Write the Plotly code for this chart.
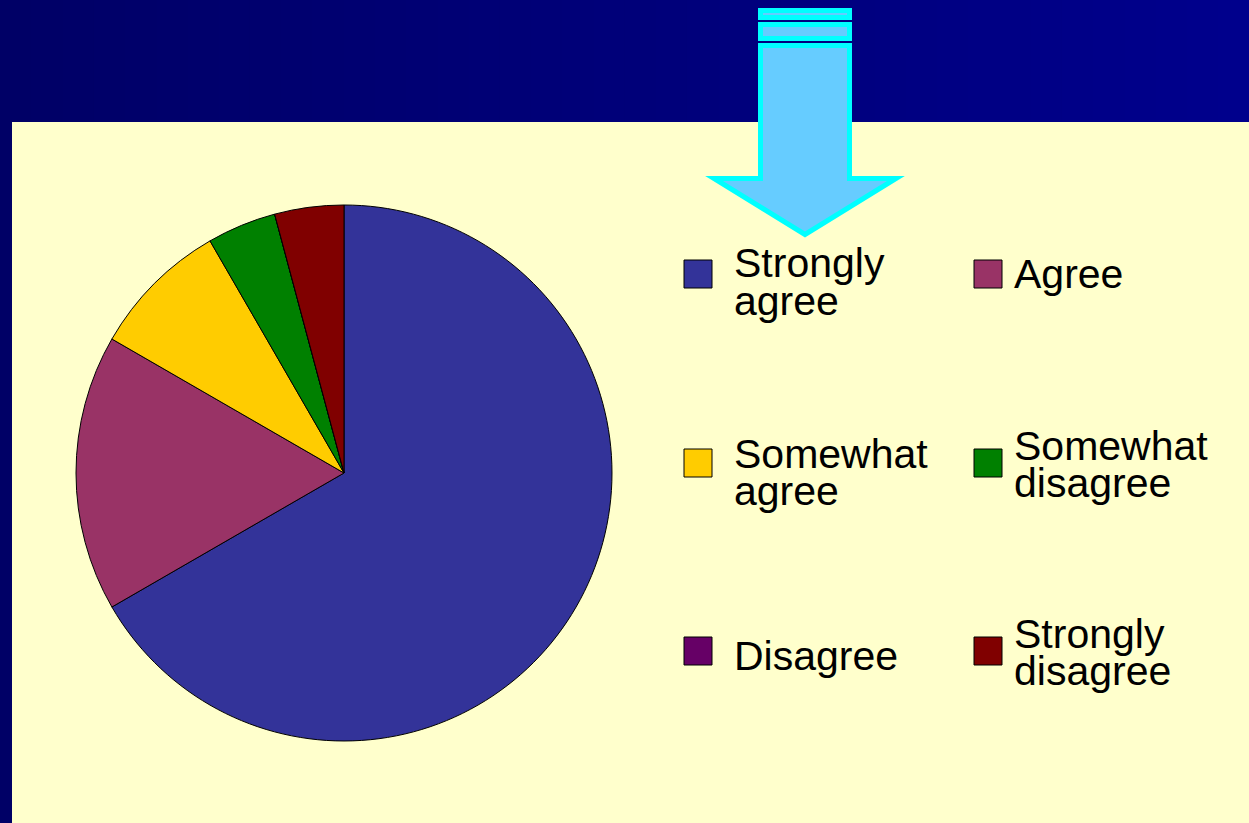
import plotly.graph_objects as go

# survey answers
categories = ["Strongly agree", "Agree", "Somewhat agree",
              "Somewhat disagree", "Disagree", "Strongly disagree"]
counts = [16, 4, 2, 1, 0, 1]
colors = ["#333399", "#993366", "#FFCC00", "#008000", "#660066", "#800000"]

W, H = 1249, 823


def px(x):
    return x / W


def py(y):
    return 1 - y / H


fig = go.Figure()

# pie (centre 344,473 r=268)
fig.add_trace(go.Pie(
    labels=categories,
    values=counts,
    marker=dict(colors=colors, line=dict(color="black", width=1)),
    sort=False,
    direction="clockwise",
    rotation=0,
    textinfo="none",
    hoverinfo="label+value+percent",
    showlegend=False,
    domain=dict(x=[px(76), px(612)], y=[py(741), py(205)]),
))

shapes = []

# title band with a left-to-right navy gradient
n = 40
c0, c1 = (0x00, 0x00, 0x66), (0x00, 0x00, 0x8C)
for i in range(n):
    t = i / (n - 1)
    col = "rgb({},{},{})".format(*[round(a + (b - a) * t) for a, b in zip(c0, c1)])
    shapes.append(dict(type="rect", xref="paper", yref="paper", layer="below",
                       x0=px(W * i / n), x1=px(W * (i + 1) / n) + 0.001,
                       y0=py(122), y1=1, fillcolor=col, line_width=0))

# pale yellow panel
shapes.append(dict(type="rect", xref="paper", yref="paper", layer="below",
                   x0=px(12), x1=1, y0=0, y1=py(122),
                   fillcolor="#FFFFCC", line_width=0))

# down arrow
arrow_fill, arrow_line = "#66CCFF", "#00FFFF"


def path(pts):
    return "M " + " L ".join("{:.5f},{:.5f}".format(px(x), py(y)) for x, y in pts) + " Z"


shapes.append(dict(type="path", xref="paper", yref="paper", layer="above",
                   path=path([(760.5, 45.5), (849.5, 45.5), (849.5, 178.5), (896, 178.5),
                              (805, 234.5), (714, 178.5), (760.5, 178.5)]),
                   fillcolor=arrow_fill, line=dict(color=arrow_line, width=5)))
for y0, y1 in [(8, 20), (22, 41)]:
    shapes.append(dict(type="rect", xref="paper", yref="paper", layer="above",
                       x0=px(760.5), x1=px(849.5), y0=py(y0 + 2.5), y1=py(y1 - 2.5),
                       fillcolor=arrow_fill, line=dict(color=arrow_line, width=5)))

# legend: two columns, three rows (text line centres in px)
col_sq = [684, 974]
col_txt = [732, 1012]
row_mid = [274, 463, 651]
line_centres = [[263, 301], [274], [454, 491], [446, 483], [656], [634, 671]]
annotations = []
for i, (lab, c) in enumerate(zip(categories, colors)):
    r, k = divmod(i, 2)
    cy = row_mid[r]
    shapes.append(dict(type="rect", xref="paper", yref="paper", layer="above",
                       x0=px(col_sq[k]), x1=px(col_sq[k] + 28),
                       y0=py(cy + 14), y1=py(cy - 14),
                       fillcolor=c, line=dict(color="black", width=1)))
    for w, yc in zip(lab.split(" "), line_centres[i]):
        annotations.append(dict(xref="paper", yref="paper", x=px(col_txt[k]), y=py(yc),
                                xanchor="left", yanchor="middle", showarrow=False,
                                text=w, font=dict(size=41, color="black",
                                                  family="Liberation Sans, Arial, sans-serif")))

fig.update_layout(
    width=W, height=H,
    margin=dict(l=0, r=0, t=0, b=0),
    paper_bgcolor="#000066",
    plot_bgcolor="#000066",
    shapes=shapes,
    annotations=annotations,
    xaxis=dict(visible=False),
    yaxis=dict(visible=False),
)

fig.write_html("out.html", config={"displayModeBar": False},
               post_script="document.body.style.margin='0';")
